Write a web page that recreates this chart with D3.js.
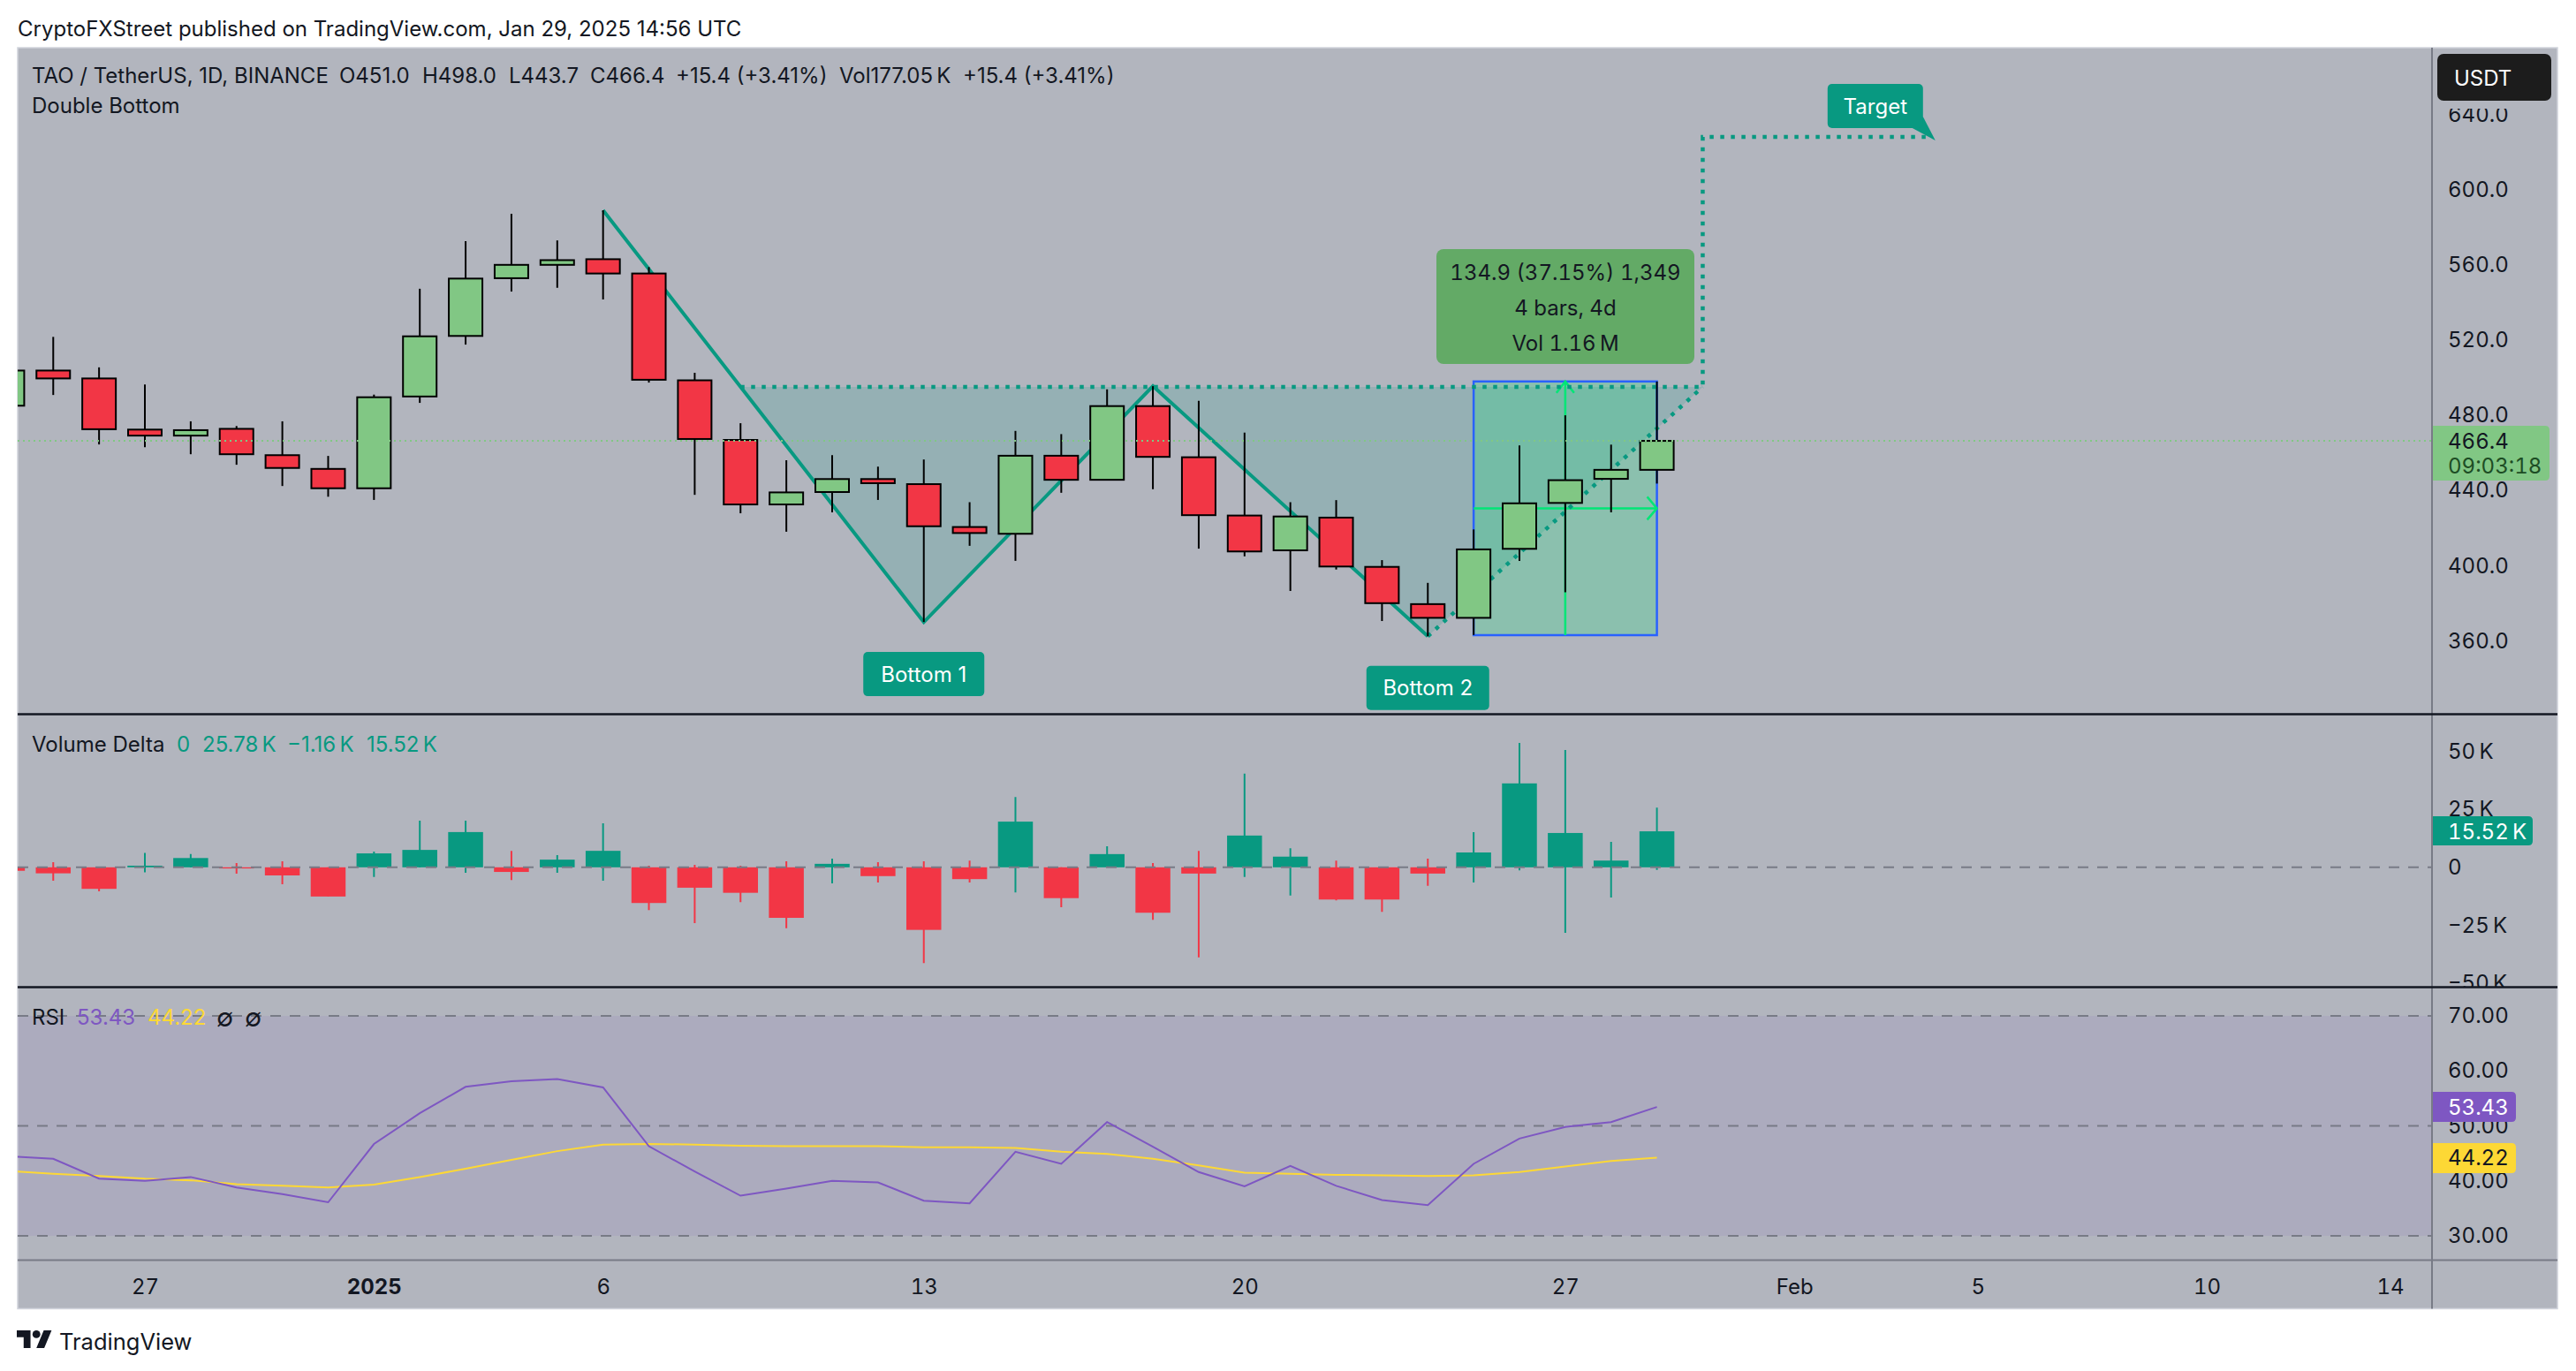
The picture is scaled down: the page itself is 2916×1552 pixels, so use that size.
<!DOCTYPE html>
<html>
<head>
<meta charset="utf-8">
<title>TAO / TetherUS</title>
<script src="https://cdn.jsdelivr.net/npm/d3@7.9.0/dist/d3.min.js"></script>
<style>
  html, body { margin: 0; background: #fff; }
  svg { display: block; }
  text { font-family: Inter, "Noto Sans", sans-serif; font-size: 24px; fill: #131722; }
  .tick text { fill: #131722; font-size: 24px; font-feature-settings: 'tnum'; }
  text.tnum { font-feature-settings: 'tnum'; }
</style>
</head>
<body>
<svg id="chart" width="2916" height="1552"></svg>
<script>
// values
const dates = ['2024-12-24','2024-12-25','2024-12-26','2024-12-27','2024-12-28','2024-12-29','2024-12-30','2024-12-31',
  '2025-01-01','2025-01-02','2025-01-03','2025-01-04','2025-01-05','2025-01-06','2025-01-07','2025-01-08','2025-01-09',
  '2025-01-10','2025-01-11','2025-01-12','2025-01-13','2025-01-14','2025-01-15','2025-01-16','2025-01-17','2025-01-18',
  '2025-01-19','2025-01-20','2025-01-21','2025-01-22','2025-01-23','2025-01-24','2025-01-25','2025-01-26','2025-01-27',
  '2025-01-28','2025-01-29'];
const opens = [485.1,503.8,499.6,472.4,469.2,472.8,458.8,451.5,441.2,490,522.2,552.9,560,563,555.4,498.6,466.9,432.6,439.2,
  446.1,443.4,420.6,417,458.5,445.7,484.9,457.7,426.7,408.2,425.6,399.4,379.6,372.3,409,433.4,446.2,451];
const highs = [510,521.7,505.5,496.4,476.8,474.3,476.8,458.4,491,547.3,572.6,587.1,573,589,558.8,502.6,475.8,456.1,458.8,
  452.7,456.5,433.8,471.7,470,493.8,495.5,487.7,470.8,433.8,434.9,403,390.9,419.3,464,480,464.4,498];
const lows = [480,490.8,464.5,463,459.3,453.7,442.4,436.7,435,486.6,517.6,545.8,547.8,541.6,497.4,437.7,427.9,418.1,428.4,
  435,370.1,410.6,402.6,438.8,445.7,440.7,409.1,405,386.6,398,370.6,362.5,363.2,402.6,385.9,428.4,443.7];
const closes = [503.8,499.6,472.6,469.2,472.1,459.3,452,441.2,489.6,522,552.7,560,562.5,555.4,498.9,467.4,432.6,439,446.1,
  443.9,421,417.4,458.5,445.7,484.9,457.9,426.9,407.6,426.2,399.6,380.1,372.3,408.7,433.2,445.5,451,466.4];

const deltaCloses = [-1.5,-2.6,-9.3,0.7,4,-0.5,-3.5,-12.6,6,7.5,15.2,-2,3.3,7.1,-15.4,-8.8,-11,-21.8,1.5,-3.8,-27,-5.1,19.7,
  -13.3,5.7,-19.6,-2.7,13.7,4.6,-13.9,-13.9,-2.7,6.4,36.2,14.8,2.9,15.52];
const deltaHighs = [1,2.2,0,6.2,5.7,1.8,2.6,0,6.8,20.1,20.1,7.1,5.3,19,0.7,1.1,0.7,2.6,3.7,2.2,2.6,2.9,30.3,0,9.1,1.8,7.1,40.4,
  8.2,2.9,0,3.7,15.2,53.7,50.6,11,25.78];
const deltaLows = [-3,-5.8,-10.4,-2.2,0,-2.7,-7.3,-12.6,-4.2,0,-2.4,-5.5,-2.4,-5.8,-18.5,-24.1,-15,-26.3,-6.9,-6.6,-41.3,-6.6,
  -10.8,-17.2,0,-22.7,-38.9,-4.2,-12.2,-14.3,-19.2,-8,-6.6,-1.3,-28.3,-13,-1.16];

const rsi = [44.5,44,40.4,40,40.7,38.8,37.6,36.1,46.7,52.3,57.1,58.1,58.5,57,46.3,41.7,37.3,38.6,40,39.7,36.4,35.9,45.3,43.1,
  50.7,46.2,41.6,39,42.7,39.1,36.5,35.6,43.1,47.7,49.8,50.7,53.43];
const rsiMa = [41.8,41.3,40.9,40.4,40.1,39.4,39.1,38.8,39.3,40.7,42.2,43.8,45.4,46.6,46.7,46.6,46.4,46.3,46.3,46.3,46.1,46.1,
  46,45.3,44.9,44,42.8,41.5,41.3,41.1,41,40.9,41,41.6,42.6,43.6,44.22];

const priceTicks = [360,400,440,480,520,560,600,640];
const deltaTicks = [-50,-25,0,25,50];
const rsiTicks = [30,40,50,60,70];
const timeTicks = ['2024-12-27','2025-01-01','2025-01-06','2025-01-13','2025-01-20','2025-01-27','2025-02-01','2025-02-05','2025-02-10','2025-02-14'];
const timeLabels = ['27','2025','6','13','20','27','Feb','5','10','14'];

// drawings on the price pane
const patternDates = ['2025-01-06','2025-01-13','2025-01-18','2025-01-24'];
const patternPrices = [589,370,495.5,362.5];
const fillDates = ['2025-01-09','2025-01-13','2025-01-18','2025-01-24','2025-01-30'];
const fillPrices = [495.1,370,495.5,362.5,495.1];
const targetDates = ['2025-01-09','2025-01-30','2025-01-30','2025-02-04'];
const targetPrices = [495.1,495.1,628,628];
const riseDates = ['2025-01-24','2025-01-30'];
const risePrices = [362.5,495.1];
const rangeDates = ['2025-01-25','2025-01-27','2025-01-29'];
const rangePrices = [363.1,430.55,498];
const lastPrice = 466.4;

const teal = '#089981', red = '#f23645', green = '#81c784', panel = '#b2b5be';
const paneLeft = 20, paneRight = 2895, axisX = 2753, paneTop = 54, paneBottom = 1481.5;
const sep1 = 808.5, sep2 = 1117.5, sep3 = 1426.5;

const parse = d3.utcParse('%Y-%m-%d');
const svg = d3.select('#chart');

const x = d3.scaleUtc()
  .domain([parse('2024-12-27'), parse('2025-01-29')])
  .range([164, 1875.6]);
const yPrice = d3.scaleLinear().domain([360, 640]).range([725.6, 129.5]);
const yDelta = d3.scaleLinear().domain([-25, 25]).range([1047.4, 916.2]);
const yRsi = d3.scaleLinear().domain([30, 70]).range([1399, 1150]);

const xd = (d) => x(parse(d));
const linePath = (ds, vs, y) => d3.line().x((d) => xd(d)).y((d, i) => y(vs[i]))(ds);

const defs = svg.append('defs');
function addClip(id, x0, y0, x1, y1) {
  defs.append('clipPath').attr('id', id).append('rect')
    .attr('x', x0).attr('y', y0).attr('width', x1 - x0).attr('height', y1 - y0);
}
addClip('main', paneLeft, paneTop, axisX, sep1);
addClip('delta', paneLeft, sep1, axisX, sep2);
addClip('rsi', paneLeft, sep2, axisX, sep3);
addClip('priceAxis', axisX, paneTop, paneRight, sep1);
addClip('deltaAxis', axisX, sep1, paneRight, sep2);

// background
svg.append('rect').attr('x', paneLeft).attr('y', paneTop).attr('width', paneRight - paneLeft).attr('height', paneBottom - paneTop)
  .attr('fill', panel).attr('stroke', '#d1d4dc').attr('stroke-width', 1.5);

svg.append('text').attr('x', 20).attr('y', 32).attr('dominant-baseline', 'central')
  .text('CryptoFXStreet published on TradingView.com, Jan 29, 2025 14:56 UTC');

// ---- price pane ----
const main = svg.append('g').attr('clip-path', 'url(#main)');

main.append('path').attr('d', linePath(fillDates, fillPrices, yPrice) + 'Z')
  .attr('fill', teal).attr('fill-opacity', 0.17);

const rx0 = xd(rangeDates[0]), rx1 = xd(rangeDates[2]), rxm = xd(rangeDates[1]);
const ry0 = yPrice(rangePrices[0]), ry1 = yPrice(rangePrices[2]), rym = yPrice(rangePrices[1]);
main.append('rect').attr('x', rx0).attr('y', ry1).attr('width', rx1 - rx0).attr('height', ry0 - ry1)
  .attr('fill', '#00e676').attr('fill-opacity', 0.22).attr('stroke', '#2962ff').attr('stroke-width', 2.5);

// range arrows
const arrow = main.append('g').attr('fill', 'none').attr('stroke', '#00e676').attr('stroke-width', 2.5);
arrow.append('line').attr('x1', rxm).attr('x2', rxm).attr('y1', ry0).attr('y2', ry1);
arrow.append('line').attr('x1', rx0).attr('x2', rx1).attr('y1', rym).attr('y2', rym);
arrow.append('path').attr('d', `M${rxm - 10},${ry1 + 13}L${rxm},${ry1}L${rxm + 10},${ry1 + 13}`);
arrow.append('path').attr('d', `M${rx1 - 11},${rym - 13}L${rx1},${rym}L${rx1 - 11},${rym + 13}`);

// double bottom lines
main.append('path').attr('d', linePath(patternDates, patternPrices, yPrice))
  .attr('fill', 'none').attr('stroke', teal).attr('stroke-width', 4);
[[targetDates, targetPrices], [riseDates, risePrices]].forEach(([ds, vs]) => {
  main.append('path').attr('d', linePath(ds, vs, yPrice))
    .attr('fill', 'none').attr('stroke', teal).attr('stroke-width', 4.5).attr('stroke-dasharray', '4.5 7.5');
});

// candles go on top of the drawings
const bodyW = 38;
const candles = main.append('g').selectAll('g').data(dates).join('g');
candles.append('line')
  .attr('x1', (d) => xd(d)).attr('x2', (d) => xd(d))
  .attr('y1', (d, i) => yPrice(highs[i])).attr('y2', (d, i) => yPrice(lows[i]))
  .attr('stroke', '#000').attr('stroke-width', 2);
candles.append('rect')
  .attr('x', (d) => xd(d) - bodyW / 2).attr('width', bodyW)
  .attr('y', (d, i) => yPrice(Math.max(opens[i], closes[i])))
  .attr('height', (d, i) => Math.abs(yPrice(opens[i]) - yPrice(closes[i])))
  .attr('fill', (d, i) => closes[i] >= opens[i] ? green : red)
  .attr('stroke', '#000').attr('stroke-width', 2);

main.append('line').attr('x1', paneLeft).attr('x2', axisX).attr('y1', yPrice(lastPrice)).attr('y2', yPrice(lastPrice))
  .attr('stroke', green).attr('stroke-width', 2).attr('stroke-dasharray', '2 4');

// note labels
function noteLabel(text, cx, y0, w, h) {
  main.append('rect').attr('x', cx - w / 2).attr('y', y0).attr('width', w).attr('height', h).attr('rx', 5).attr('fill', teal);
  main.append('text').attr('x', cx).attr('y', y0 + h / 2).attr('text-anchor', 'middle')
    .attr('dominant-baseline', 'central').style('fill', '#fff').text(text);
}
noteLabel('Bottom 1', xd('2025-01-13'), yPrice(370.1) + 34, 137, 50);
noteLabel('Bottom 2', xd('2025-01-24'), yPrice(362.5) + 33.5, 139, 50);
const tx = x(parse('2025-02-04'));
main.append('path').attr('d', `M${tx - 10},132L${tx + 4},159L${tx - 22},145Z`).attr('fill', teal);
noteLabel('Target', tx - 64, 95, 108, 50);

// info box of the range tool
const infoLines = ['134.9 (37.15%) 1,349', '4 bars, 4d', 'Vol 1.16\u2009M'];
main.append('rect').attr('x', 1626).attr('y', 282).attr('width', 292).attr('height', 130).attr('rx', 8).attr('fill', '#63aa66');
infoLines.forEach((t, i) => {
  main.append('text').attr('class', 'tnum').attr('x', 1772).attr('y', 308 + i * 40).attr('text-anchor', 'middle')
    .attr('dominant-baseline', 'central').text(t);
});

// legend
const legend = [[36, 'TAO / TetherUS, 1D, BINANCE'], [384, 'O451.0'], [478, 'H498.0'], [576, 'L443.7'], [668, 'C466.4'],
  [765, '+15.4 (+3.41%)'], [950, 'Vol177.05\u2009K'], [1090, '+15.4 (+3.41%)']];
legend.forEach(([lx, t]) => {
  svg.append('text').attr('x', lx).attr('y', 85).attr('dominant-baseline', 'central').text(t);
});
svg.append('text').attr('x', 36).attr('y', 119).attr('dominant-baseline', 'central').text('Double Bottom');

// ---- volume delta pane ----
const delta = svg.append('g').attr('clip-path', 'url(#delta)');
const deltaW = 39.5;
const deltaBars = delta.append('g').selectAll('g').data(dates).join('g');
deltaBars.append('line')
  .attr('x1', (d) => xd(d)).attr('x2', (d) => xd(d))
  .attr('y1', (d, i) => yDelta(deltaHighs[i])).attr('y2', (d, i) => yDelta(deltaLows[i]))
  .attr('stroke', (d, i) => deltaCloses[i] >= 0 ? teal : red).attr('stroke-width', 2);
deltaBars.append('rect')
  .attr('x', (d) => xd(d) - deltaW / 2).attr('width', deltaW)
  .attr('y', (d, i) => yDelta(Math.max(0, deltaCloses[i])))
  .attr('height', (d, i) => Math.abs(yDelta(deltaCloses[i]) - yDelta(0)))
  .attr('fill', (d, i) => deltaCloses[i] >= 0 ? teal : red);
delta.append('line').attr('x1', paneLeft).attr('x2', axisX).attr('y1', yDelta(0)).attr('y2', yDelta(0))
  .attr('stroke', '#787b86').attr('stroke-width', 2).attr('stroke-dasharray', '12 10');

svg.append('text').attr('x', 36).attr('y', 842).attr('dominant-baseline', 'central').text('Volume Delta');
[[200, '0'], [229, '25.78\u2009K'], [325, '\u22121.16\u2009K'], [415, '15.52\u2009K']].forEach(([lx, t]) => {
  svg.append('text').attr('x', lx).attr('y', 842).attr('dominant-baseline', 'central').style('fill', teal).text(t);
});

// ---- rsi pane ----
const rsiPane = svg.append('g').attr('clip-path', 'url(#rsi)');
rsiPane.append('rect').attr('x', paneLeft).attr('width', axisX - paneLeft).attr('y', yRsi(70)).attr('height', yRsi(30) - yRsi(70))
  .attr('fill', '#7e57c2').attr('fill-opacity', 0.1);
[70, 50, 30].forEach((v) => {
  rsiPane.append('line').attr('x1', paneLeft).attr('x2', axisX).attr('y1', yRsi(v)).attr('y2', yRsi(v))
    .attr('stroke', '#787b86').attr('stroke-width', 2).attr('stroke-dasharray', '12 10');
});
rsiPane.append('path').attr('d', linePath(dates, rsiMa, yRsi)).attr('fill', 'none').attr('stroke', '#fdd835').attr('stroke-width', 2);
rsiPane.append('path').attr('d', linePath(dates, rsi, yRsi)).attr('fill', 'none').attr('stroke', '#7e57c2').attr('stroke-width', 2);

svg.append('text').attr('x', 36).attr('y', 1151).attr('dominant-baseline', 'central').text('RSI');
[[87, '53.43', '#7e57c2'], [167, '44.22', '#fdd835']].forEach(([lx, t, c]) => {
  svg.append('text').attr('x', lx).attr('y', 1151).attr('dominant-baseline', 'central').style('fill', c).text(t);
});
[245, 277].forEach((lx) => {
  svg.append('text').attr('x', lx).attr('y', 1152).attr('dominant-baseline', 'central').style('font-size', '28px').text('\u2205');
});

// ---- axes ----
function styleAxis(g) {
  g.select('.domain').remove();
  g.selectAll('.tick line').remove();
}
svg.append('g').attr('clip-path', 'url(#priceAxis)').append('g')
  .attr('transform', `translate(${axisX},0)`)
  .call(d3.axisRight(yPrice).tickValues(priceTicks).tickFormat(d3.format('.1f')).tickSize(0).tickPadding(18))
  .call(styleAxis);
svg.append('g').attr('clip-path', 'url(#deltaAxis)').append('g')
  .attr('transform', `translate(${axisX},0)`)
  .call(d3.axisRight(yDelta).tickValues(deltaTicks)
    .tickFormat((d) => d === 0 ? '0' : `${d < 0 ? '\u2212' : ''}${Math.abs(d)}\u2009K`).tickSize(0).tickPadding(18))
  .call(styleAxis);
svg.append('g')
  .attr('transform', `translate(${axisX},0)`)
  .call(d3.axisRight(yRsi).tickValues(rsiTicks).tickFormat(d3.format('.2f')).tickSize(0).tickPadding(18))
  .call(styleAxis);
svg.append('g')
  .attr('transform', `translate(0,1444)`)
  .call(d3.axisBottom(x).tickValues(timeTicks.map(parse)).tickFormat((d, i) => timeLabels[i]).tickSize(0).tickPadding(0))
  .call(styleAxis)
  .selectAll('text').attr('dy', 0).attr('y', 12).attr('dominant-baseline', 'central')
  .style('font-weight', (d, i) => timeLabels[i] === '2025' ? 700 : 400);

// pane separators and axis lines
svg.append('line').attr('x1', axisX).attr('x2', axisX).attr('y1', paneTop).attr('y2', paneBottom).attr('stroke', '#787b86').attr('stroke-width', 2);
svg.append('line').attr('x1', paneLeft).attr('x2', paneRight).attr('y1', sep3).attr('y2', sep3).attr('stroke', '#787b86').attr('stroke-width', 2);
[sep1, sep2].forEach((s) => {
  svg.append('line').attr('x1', paneLeft).attr('x2', paneRight).attr('y1', s).attr('y2', s).attr('stroke', '#131722').attr('stroke-width', 2.5);
});

// axis value labels
function axisLabel(y0, y1, w, fill, color, text, cy) {
  svg.append('path')
    .attr('d', `M${axisX + 1},${y0}h${w - 5}q5,0 5,5v${y1 - y0 - 10}q0,5 -5,5h${-(w - 5)}Z`)
    .attr('fill', fill);
  svg.append('text').attr('class', 'tnum').attr('x', axisX + 18).attr('y', cy).attr('dominant-baseline', 'central').style('fill', color).text(text);
}
axisLabel(482, 544, 132, green, '#131722', '466.4', 499);
svg.append('text').attr('class', 'tnum').attr('x', axisX + 18).attr('y', 527).attr('dominant-baseline', 'central').style('fill', '#1d4d24').text('09:03:18');
axisLabel(924, 957, 113, teal, '#fff', '15.52\u2009K', yDelta(15.52));
axisLabel(1236, 1270, 94, '#7e57c2', '#fff', '53.43', yRsi(53.43));
axisLabel(1294, 1328, 94, '#fdd835', '#131722', '44.22', yRsi(44.22));

// currency button sits in a strip that cuts the top of the 640 label
svg.append('rect').attr('x', axisX + 1).attr('y', paneTop + 1).attr('width', paneRight - axisX - 2).attr('height', 68).attr('fill', panel);
svg.append('rect').attr('x', 2759).attr('y', 61).attr('width', 129).attr('height', 53).attr('rx', 7).attr('fill', '#1c1c1c');
svg.append('text').attr('x', 2778).attr('y', 88).attr('dominant-baseline', 'central').style('fill', '#fff').text('USDT');

// footer logo
svg.append('g').attr('transform', 'translate(19,1501.5) scale(1.11)').attr('fill', '#131722').call((g) => {
  g.append('path').attr('d', 'M14 22H7V11H0V4h14v18zM28 22h-8l7.5-18h8L28 22z');
  g.append('circle').attr('cx', 20).attr('cy', 8).attr('r', 4);
});
svg.append('text').attr('x', 67).attr('y', 1518).attr('dominant-baseline', 'central').style('font-size', '25.5px').text('TradingView');
</script>
</body>
</html>
